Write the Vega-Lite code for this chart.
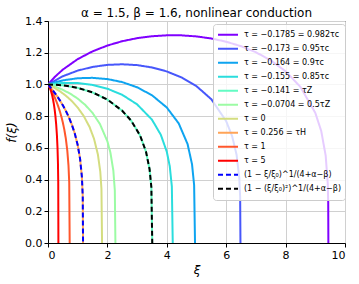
{
  "$schema": "https://vega.github.io/schema/vega-lite/v6.json",
  "width": 297,
  "height": 222,
  "autosize": {"type": "none"},
  "padding": {"left": 48, "top": 21, "right": 14, "bottom": 41},
  "title": {"text": "α = 1.5,  β = 1.6,   nonlinear conduction", "fontSize": 12, "fontWeight": "normal", "font": "DejaVu Sans", "offset": 4, "dy": 9, "color": "black"},
  "config": {
    "font": "DejaVu Sans",
    "view": {"stroke": "black", "strokeWidth": 1},
    "axis": {"grid": true, "gridColor": "#d0d0d0", "gridWidth": 1, "domainColor": "black", "tickColor": "black", "tickSize": 4, "labelFontSize": 11, "labelColor": "black", "titleFontSize": 12, "titleFontWeight": "normal", "titleFontStyle": "italic", "titleColor": "black"}
  },
  "datasets": {
    "solid": [
      {"s":"a0","xi":0,"f":1},{"s":"a0","xi":0.25,"f":1.0512},{"s":"a0","xi":0.5,"f":1.0935},{"s":"a0","xi":1,"f":1.1596},{"s":"a0","xi":1.5,"f":1.2087},{"s":"a0","xi":2,"f":1.2453},{"s":"a0","xi":2.5,"f":1.2726},{"s":"a0","xi":3,"f":1.2918},{"s":"a0","xi":3.5,"f":1.304},{"s":"a0","xi":4,"f":1.3098},{"s":"a0","xi":4.5,"f":1.3094},{"s":"a0","xi":5,"f":1.3028},{"s":"a0","xi":5.5,"f":1.2897},{"s":"a0","xi":6,"f":1.2693},{"s":"a0","xi":6.5,"f":1.241},{"s":"a0","xi":7,"f":1.2028},{"s":"a0","xi":7.5,"f":1.1519},{"s":"a0","xi":8,"f":1.0828},{"s":"a0","xi":8.5,"f":0.9841},{"s":"a0","xi":9,"f":0.8206},{"s":"a0","xi":9.2,"f":0.7059},{"s":"a0","xi":9.35,"f":0.5504},{"s":"a0","xi":9.42,"f":0.3727},{"s":"a0","xi":9.435,"f":0.2557},{"s":"a0","xi":9.44,"f":0},
      {"s":"a1","xi":0,"f":1},{"s":"a1","xi":0.5,"f":1.0517},{"s":"a1","xi":1,"f":1.0872},{"s":"a1","xi":1.5,"f":1.1104},{"s":"a1","xi":2,"f":1.1233},{"s":"a1","xi":2.5,"f":1.127},{"s":"a1","xi":3,"f":1.1218},{"s":"a1","xi":3.5,"f":1.1072},{"s":"a1","xi":4,"f":1.082},{"s":"a1","xi":4.5,"f":1.0441},{"s":"a1","xi":5,"f":0.9889},{"s":"a1","xi":5.5,"f":0.9066},{"s":"a1","xi":6,"f":0.7682},{"s":"a1","xi":6.2,"f":0.6735},{"s":"a1","xi":6.35,"f":0.5558},{"s":"a1","xi":6.44,"f":0.4121},{"s":"a1","xi":6.47,"f":0.2881},{"s":"a1","xi":6.48,"f":0},
      {"s":"a2","xi":0,"f":1},{"s":"a2","xi":0.5,"f":1.0256},{"s":"a2","xi":1,"f":1.039},{"s":"a2","xi":1.5,"f":1.0417},{"s":"a2","xi":2,"f":1.0338},{"s":"a2","xi":2.5,"f":1.0146},{"s":"a2","xi":3,"f":0.982},{"s":"a2","xi":3.5,"f":0.9319},{"s":"a2","xi":4,"f":0.8544},{"s":"a2","xi":4.4,"f":0.7547},{"s":"a2","xi":4.7,"f":0.6237},{"s":"a2","xi":4.85,"f":0.496},{"s":"a2","xi":4.92,"f":0.3653},{"s":"a2","xi":4.95,"f":0},
      {"s":"a3","xi":0,"f":1},{"s":"a3","xi":0.5,"f":1.0098},{"s":"a3","xi":1,"f":1.0088},{"s":"a3","xi":1.5,"f":0.997},{"s":"a3","xi":2,"f":0.9731},{"s":"a3","xi":2.5,"f":0.9343},{"s":"a3","xi":3,"f":0.8745},{"s":"a3","xi":3.5,"f":0.778},{"s":"a3","xi":3.8,"f":0.682},{"s":"a3","xi":4,"f":0.5753},{"s":"a3","xi":4.1,"f":0.4836},{"s":"a3","xi":4.17,"f":0.3559},{"s":"a3","xi":4.2,"f":0},
      {"s":"a4","xi":0,"f":1},{"s":"a4","xi":0.5,"f":0.9948},{"s":"a4","xi":1,"f":0.9785},{"s":"a4","xi":1.5,"f":0.9496},{"s":"a4","xi":2,"f":0.9043},{"s":"a4","xi":2.5,"f":0.834},{"s":"a4","xi":2.8,"f":0.7715},{"s":"a4","xi":3.1,"f":0.6782},{"s":"a4","xi":3.3,"f":0.5757},{"s":"a4","xi":3.42,"f":0.4654},{"s":"a4","xi":3.48,"f":0.3519},{"s":"a4","xi":3.51,"f":0},
      {"s":"a5","xi":0,"f":1},{"s":"a5","xi":0.25,"f":0.9852},{"s":"a5","xi":0.5,"f":0.9659},{"s":"a5","xi":0.75,"f":0.9415},{"s":"a5","xi":1,"f":0.9106},{"s":"a5","xi":1.25,"f":0.8713},{"s":"a5","xi":1.5,"f":0.8202},{"s":"a5","xi":1.75,"f":0.7499},{"s":"a5","xi":2,"f":0.6407},{"s":"a5","xi":2.1,"f":0.5714},{"s":"a5","xi":2.2,"f":0.4571},{"s":"a5","xi":2.25,"f":0.3322},{"s":"a5","xi":2.27,"f":0},
      {"s":"a6","xi":0,"f":1},{"s":"a6","xi":0.2,"f":0.9804},{"s":"a6","xi":0.4,"f":0.957},{"s":"a6","xi":0.6,"f":0.9291},{"s":"a6","xi":0.8,"f":0.8954},{"s":"a6","xi":1,"f":0.854},{"s":"a6","xi":1.2,"f":0.8016},{"s":"a6","xi":1.4,"f":0.7314},{"s":"a6","xi":1.55,"f":0.6569},{"s":"a6","xi":1.68,"f":0.5579},{"s":"a6","xi":1.76,"f":0.4502},{"s":"a6","xi":1.8,"f":0.3401},{"s":"a6","xi":1.82,"f":0},
      {"s":"a7","xi":0,"f":1},{"s":"a7","xi":0.1,"f":0.9775},{"s":"a7","xi":0.2,"f":0.9535},{"s":"a7","xi":0.3,"f":0.9275},{"s":"a7","xi":0.4,"f":0.8993},{"s":"a7","xi":0.5,"f":0.8682},{"s":"a7","xi":0.6,"f":0.8335},{"s":"a7","xi":0.7,"f":0.7941},{"s":"a7","xi":0.8,"f":0.7478},{"s":"a7","xi":0.9,"f":0.6916},{"s":"a7","xi":1,"f":0.6175},{"s":"a7","xi":1.08,"f":0.5311},{"s":"a7","xi":1.14,"f":0.4199},{"s":"a7","xi":1.17,"f":0.2943},{"s":"a7","xi":1.18,"f":0},
      {"s":"a8","xi":0,"f":1},{"s":"a8","xi":0.05,"f":0.9841},{"s":"a8","xi":0.1,"f":0.9671},{"s":"a8","xi":0.15,"f":0.9488},{"s":"a8","xi":0.2,"f":0.9291},{"s":"a8","xi":0.25,"f":0.9077},{"s":"a8","xi":0.3,"f":0.8843},{"s":"a8","xi":0.35,"f":0.8585},{"s":"a8","xi":0.4,"f":0.8297},{"s":"a8","xi":0.45,"f":0.7971},{"s":"a8","xi":0.5,"f":0.7594},{"s":"a8","xi":0.55,"f":0.7145},{"s":"a8","xi":0.6,"f":0.6587},{"s":"a8","xi":0.65,"f":0.5827},{"s":"a8","xi":0.69,"f":0.4886},{"s":"a8","xi":0.715,"f":0.3803},{"s":"a8","xi":0.73,"f":0},
      {"s":"a9","xi":0,"f":1},{"s":"a9","xi":0.025,"f":0.9927},{"s":"a9","xi":0.05,"f":0.9834},{"s":"a9","xi":0.075,"f":0.972},{"s":"a9","xi":0.1,"f":0.9583},{"s":"a9","xi":0.125,"f":0.942},{"s":"a9","xi":0.15,"f":0.9227},{"s":"a9","xi":0.175,"f":0.8998},{"s":"a9","xi":0.2,"f":0.8726},{"s":"a9","xi":0.225,"f":0.8399},{"s":"a9","xi":0.25,"f":0.7998},{"s":"a9","xi":0.275,"f":0.7489},{"s":"a9","xi":0.3,"f":0.6802},{"s":"a9","xi":0.32,"f":0.6003},{"s":"a9","xi":0.335,"f":0.5048},{"s":"a9","xi":0.345,"f":0.382},{"s":"a9","xi":0.35,"f":0}
    ],
    "dashed": [
      {"s":"d1","xi":0,"f":1},{"s":"d1","xi":0.1,"f":0.9775},{"s":"d1","xi":0.2,"f":0.9535},{"s":"d1","xi":0.3,"f":0.9275},{"s":"d1","xi":0.4,"f":0.8993},{"s":"d1","xi":0.5,"f":0.8682},{"s":"d1","xi":0.6,"f":0.8335},{"s":"d1","xi":0.7,"f":0.7941},{"s":"d1","xi":0.8,"f":0.7478},{"s":"d1","xi":0.9,"f":0.6916},{"s":"d1","xi":1,"f":0.6175},{"s":"d1","xi":1.08,"f":0.5311},{"s":"d1","xi":1.14,"f":0.4199},{"s":"d1","xi":1.17,"f":0.2943},{"s":"d1","xi":1.18,"f":0},
      {"s":"d2","xi":0,"f":1},{"s":"d2","xi":0.5,"f":0.9948},{"s":"d2","xi":1,"f":0.9785},{"s":"d2","xi":1.5,"f":0.9496},{"s":"d2","xi":2,"f":0.9043},{"s":"d2","xi":2.5,"f":0.834},{"s":"d2","xi":2.8,"f":0.7715},{"s":"d2","xi":3.1,"f":0.6782},{"s":"d2","xi":3.3,"f":0.5757},{"s":"d2","xi":3.42,"f":0.4654},{"s":"d2","xi":3.48,"f":0.3519},{"s":"d2","xi":3.51,"f":0}
    ]
  },
  "encoding": {
    "x": {"field": "xi", "type": "quantitative", "scale": {"domain": [0, 10], "nice": false}, "axis": {"values": [0, 2, 4, 6, 8, 10], "title": "ξ", "titlePadding": 4}},
    "y": {"field": "f", "type": "quantitative", "scale": {"domain": [0, 1.4], "nice": false}, "axis": {"values": [0, 0.2, 0.4, 0.6, 0.8, 1.0, 1.2, 1.4], "format": ".1f", "title": "f(ξ)", "titlePadding": 6}},
    "color": {"field": "s", "type": "nominal", "scale": {"domain": ["a0","a1","a2","a3","a4","a5","a6","a7","a8","a9","d1","d2"], "range": ["#8000ff","#4757fb","#0ea4f0","#2adddd","#63fbc3","#9cfba4","#d4dd80","#ffa457","#ff572c","#ff0000","#0000ff","#000000"]},
      "legend": {"title": null, "orient": "none", "legendX": 165, "legendY": 3, "fillColor": "rgba(255,255,255,0.8)", "strokeColor": "#cccccc", "cornerRadius": 3, "padding": 4, "symbolType": "stroke", "symbolSize": 400, "symbolStrokeWidth": 2, "labelFontSize": 8, "labelColor": "black", "clipHeight": 13.5, "rowPadding": 0, "labelOffset": 5, "labelLimit": 200,
        "labelExpr": "{'a0':'τ = −0.1785 = 0.982τc','a1':'τ = −0.173 = 0.95τc','a2':'τ = −0.164 = 0.9τc','a3':'τ = −0.155 = 0.85τc','a4':'τ = −0.141 = τZ','a5':'τ = −0.0704 = 0.5τZ','a6':'τ = 0','a7':'τ = 0.256 = τH','a8':'τ = 1','a9':'τ = 5','d1':'(1 − ξ/ξ₀)^1/(4+α−β)','d2':'(1 − (ξ/ξ₀)²)^1/(4+α−β)'}[datum.value]"}},
    "strokeDash": {"field": "s", "type": "nominal", "scale": {"domain": ["a0","a1","a2","a3","a4","a5","a6","a7","a8","a9","d1","d2"], "range": [[1,0],[1,0],[1,0],[1,0],[1,0],[1,0],[1,0],[1,0],[1,0],[1,0],[5,3],[5,3]]},
      "legend": {"title": null, "orient": "none", "legendX": 165, "legendY": 3, "fillColor": "rgba(255,255,255,0.8)", "strokeColor": "#cccccc", "cornerRadius": 3, "padding": 4, "symbolType": "stroke", "symbolSize": 400, "symbolStrokeWidth": 2, "labelFontSize": 8, "labelColor": "black", "clipHeight": 13.5, "rowPadding": 0, "labelOffset": 5, "labelLimit": 200,
        "labelExpr": "{'a0':'τ = −0.1785 = 0.982τc','a1':'τ = −0.173 = 0.95τc','a2':'τ = −0.164 = 0.9τc','a3':'τ = −0.155 = 0.85τc','a4':'τ = −0.141 = τZ','a5':'τ = −0.0704 = 0.5τZ','a6':'τ = 0','a7':'τ = 0.256 = τH','a8':'τ = 1','a9':'τ = 5','d1':'(1 − ξ/ξ₀)^1/(4+α−β)','d2':'(1 − (ξ/ξ₀)²)^1/(4+α−β)'}[datum.value]"}}
  },
  "layer": [
    {"data": {"name": "solid"}, "mark": {"type": "line", "strokeWidth": 2, "clip": true}},
    {"data": {"name": "dashed"}, "mark": {"type": "line", "strokeWidth": 2, "clip": true}}
  ]
}
